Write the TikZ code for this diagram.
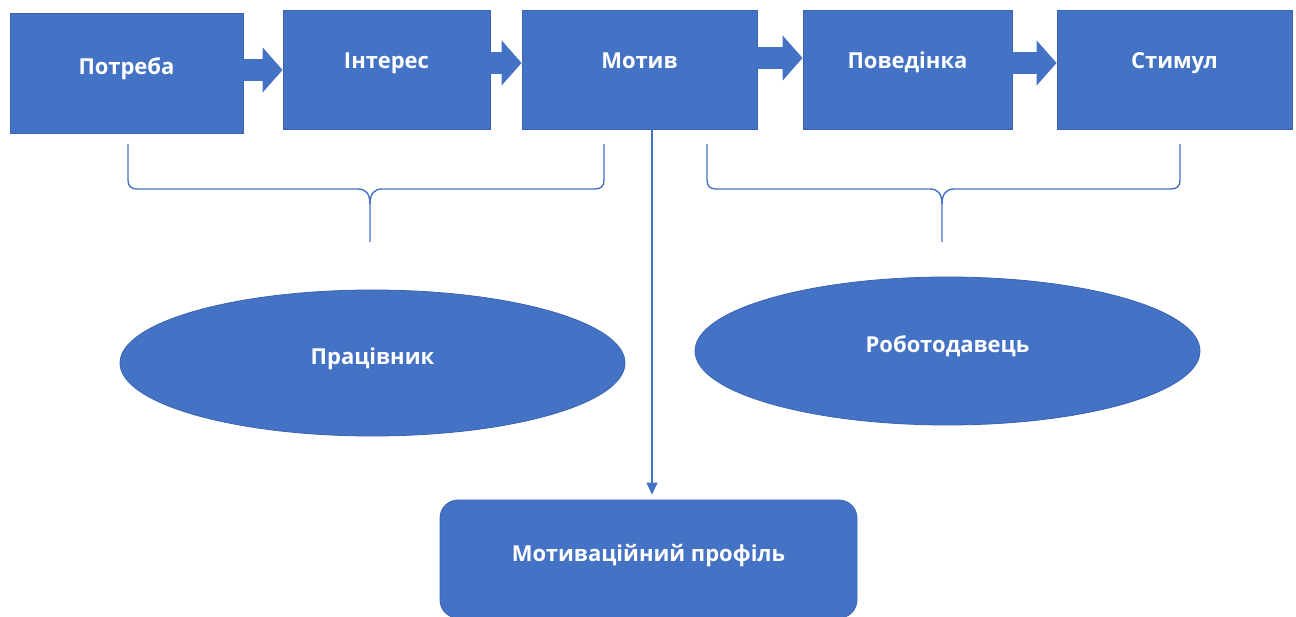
\documentclass[tikz,border=0pt]{standalone}
\usepackage{fontspec}
\setmainfont{Open Sans}
\usetikzlibrary{shapes.geometric,arrows.meta,calc}
\definecolor{ofblue}{HTML}{4472C4}
\definecolor{ofedge}{HTML}{3A64B0}
\tikzset{
  lbl/.style={text=white,font=\fontsize{22}{26}\selectfont\bfseries,inner sep=0pt},
  stepbox/.style={lbl,rectangle,fill=ofblue,draw=ofedge,line width=0.8pt,
    text height=8pt,text depth=10pt},
  oval/.style={lbl,ellipse,fill=ofblue,draw=ofedge,line width=0.8pt,
    minimum width=505pt,text height=10pt,text depth=6pt},
  flowarrow/.style={draw=ofblue,line width=22pt,
    -{Triangle[width=44pt,length=20pt]}},
  bracket/.style={draw=ofblue,line width=1.4pt},
  thinarrow/.style={draw=ofblue,line width=1.3pt,
    -{Triangle[width=11pt,length=12pt]}}
}
\begin{document}
\begin{tikzpicture}[x=1pt,y=-1pt]
\useasboundingbox (0,0) rectangle (1296,617);
% top row
\node[stepbox,minimum width=233pt,minimum height=120pt,text height=10pt,text depth=6pt] (p1) at (126.5,73) {Потреба};
\node[stepbox,minimum width=207pt,minimum height=119pt] (p2) at (386.5,69.5) {Інтерес};
\node[stepbox,minimum width=235pt,minimum height=119pt] (p3) at (639.5,69.5) {Мотив};
\node[stepbox,minimum width=209pt,minimum height=119pt] (p4) at (907.5,69.5) {Поведінка};
\node[stepbox,minimum width=235pt,minimum height=119pt] (p5) at (1174.5,69.5) {Стимул};
% block arrows
\draw[flowarrow] (p1.east |- 0,70) -- (p2.west |- 0,70);
\draw[flowarrow] (p2.east |- 0,63) -- (p3.west |- 0,63);
\draw[flowarrow] (p3.east |- 0,58) -- (p4.west |- 0,58);
\draw[flowarrow] (p4.east |- 0,63) -- (p5.west |- 0,63);
% braces
\coordinate (b1l) at (128,144);
\coordinate (b1r) at (604,144);
\coordinate (b1t) at (370,242);
\draw[bracket] (b1l) -- (128,180) .. controls (128,186) and (131,189) .. (137,189)
  -- (358,189) .. controls (366,189) and (370,194) .. (370,204) -- (b1t);
\draw[bracket] (b1r) -- (604,180) .. controls (604,186) and (601,189) .. (595,189)
  -- (382,189) .. controls (374,189) and (370,194) .. (370,204);
\coordinate (b2l) at (707,144);
\coordinate (b2r) at (1180,144);
\coordinate (b2t) at (942,242);
\draw[bracket] (b2l) -- (707,180) .. controls (707,186) and (710,189) .. (716,189)
  -- (930,189) .. controls (938,189) and (942,194) .. (942,204) -- (b2t);
\draw[bracket] (b2r) -- (1180,180) .. controls (1180,186) and (1177,189) .. (1171,189)
  -- (954,189) .. controls (946,189) and (942,194) .. (942,204);
% ellipses
\node[oval,minimum height=146pt] (e1) at (372.5,363) {Працівник};
\node[oval,minimum height=148pt] (e2) at (947.5,351) {Роботодавець};
% bottom box
\node[stepbox,rounded corners=18pt,minimum width=417pt,minimum height=118pt,text height=10pt,text depth=6pt] (prof) at (648.5,559) {Мотиваційний профіль};
% vertical arrow
\coordinate (vx) at (652,0);
\draw[thinarrow,shorten >=5pt] (p3.south -| vx) -- (prof.north -| vx);
\end{tikzpicture}
\end{document}
